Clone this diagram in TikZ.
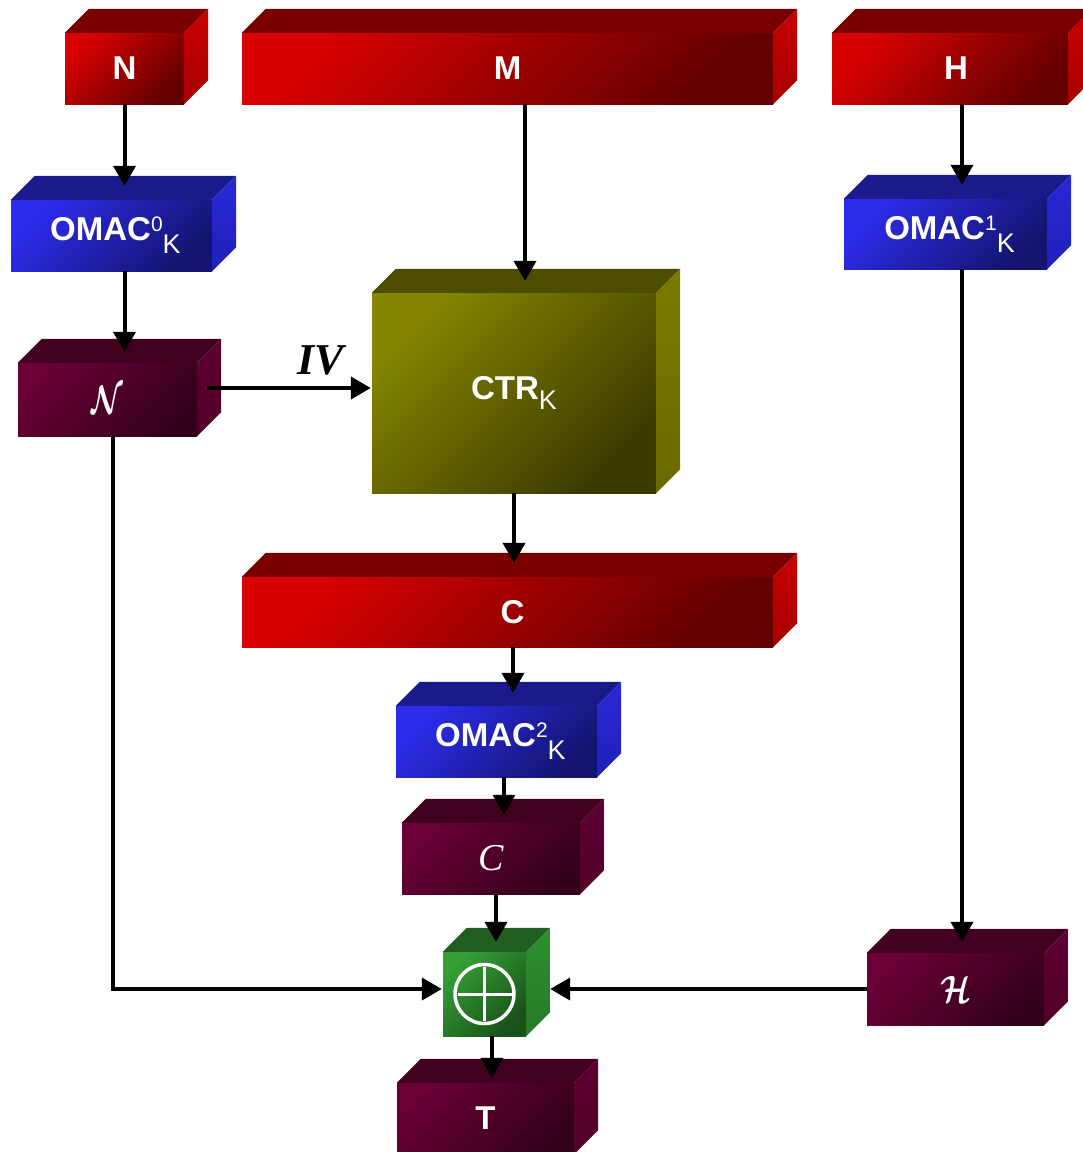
\documentclass[tikz,border=0pt]{standalone}
\usepackage{fontspec}
\usepackage{graphicx}
\setmainfont{Liberation Sans}
\newfontfamily\serifface{Liberation Serif}
\usetikzlibrary{arrows.meta}

% face colours of the 3D blocks
\definecolor{redA}{RGB}{216,0,0}
\definecolor{redB}{RGB}{100,0,0}
\definecolor{redT}{RGB}{122,0,0}
\definecolor{redS1}{RGB}{200,0,0}
\definecolor{redS2}{RGB}{168,0,0}
\definecolor{blueA}{RGB}{44,44,235}
\definecolor{blueB}{RGB}{20,20,112}
\definecolor{blueT}{RGB}{26,26,140}
\definecolor{blueS1}{RGB}{40,40,216}
\definecolor{blueS2}{RGB}{32,32,184}
\definecolor{oliveA}{RGB}{133,133,0}
\definecolor{oliveB}{RGB}{58,58,0}
\definecolor{oliveT}{RGB}{77,77,0}
\definecolor{oliveS1}{RGB}{122,122,0}
\definecolor{oliveS2}{RGB}{106,106,0}
\definecolor{maroonA}{RGB}{106,0,54}
\definecolor{maroonB}{RGB}{51,0,26}
\definecolor{maroonT}{RGB}{66,0,31}
\definecolor{maroonS1}{RGB}{94,0,50}
\definecolor{maroonS2}{RGB}{82,0,40}
\definecolor{greenA}{RGB}{52,160,52}
\definecolor{greenB}{RGB}{26,80,26}
\definecolor{greenT}{RGB}{31,94,31}
\definecolor{greenS1}{RGB}{46,144,46}
\definecolor{greenS2}{RGB}{38,122,38}

\tikzset{
  face/.style={font=\fontsize{33}{36}\selectfont\bfseries, text=white, inner sep=0pt},
  redfront/.style={face, top color=redA, bottom color=redB, shading angle=45},
  redtop/.style={fill=redT},
  redside/.style={top color=redS1, bottom color=redS2},
  bluefront/.style={face, top color=blueA, bottom color=blueB, shading angle=45},
  bluetop/.style={fill=blueT},
  blueside/.style={top color=blueS1, bottom color=blueS2},
  olivefront/.style={face, top color=oliveA, bottom color=oliveB, shading angle=45},
  olivetop/.style={fill=oliveT},
  oliveside/.style={top color=oliveS1, bottom color=oliveS2},
  maroonfront/.style={face, top color=maroonA, bottom color=maroonB, shading angle=45},
  maroontop/.style={fill=maroonT},
  maroonside/.style={top color=maroonS1, bottom color=maroonS2},
  greenfront/.style={face, top color=greenA, bottom color=greenB, shading angle=45},
  greentop/.style={fill=greenT},
  greenside/.style={top color=greenS1, bottom color=greenS2},
  arr/.style={line width=4pt, -{Triangle[length=20pt,width=22pt]}},
}

% \block{name}{cx}{cy}{width}{height}{colour set}{label}
\newcommand\block[7]{%
  \node[#6front, minimum width=#4pt, minimum height=#5pt] (#1) at (#2,#3) {#7};
  \path[#6top] (#1.north west) -- ++(24,-24) -- ([shift={(24pt,24pt)}]#1.north east)
    -- (#1.north east) -- cycle;
  \path[#6side] (#1.north east) -- ([shift={(24pt,24pt)}]#1.north east)
    -- ([shift={(24pt,24pt)}]#1.south east) -- (#1.south east) -- cycle;
}
\newcommand\omac[1]{OMAC\raisebox{9pt}{\fontsize{21}{21}\selectfont\mdseries #1}%
  \raisebox{-13pt}{\fontsize{27}{27}\selectfont\mdseries K}}
\newcommand\scriptletter[3]{\scalebox{#1}[#2]{\fontsize{10}{12}\selectfont\boldmath$\mathcal{#3}$}}

\begin{document}
\begin{tikzpicture}[x=1pt, y=-1pt]
  \useasboundingbox (0,0) rectangle (1083,1152);
  \fill[white] (0,0) rectangle (1083,1152);
  \clip (0,0) rectangle (1083,1152);

  % inputs
  \block{N}{124.5}{68.5}{119}{71}{red}{N}
  \block{M}{507.5}{68.5}{531}{71}{red}{M}
  \block{H}{950}{68.5}{236}{71}{red}{\hspace{12pt}H}

  % OMAC and CTR stages
  \block{O0}{111.5}{235.5}{201}{71}{blue}{\hspace{8pt}\omac{0}}
  \block{O1}{945.5}{234}{203}{70}{blue}{\hspace{8pt}\omac{1}}
  \block{Ncal}{107.5}{399.5}{179}{73}{maroon}{\scriptletter{2.9}{4.0}{N}}
  \block{CTR}{514}{393}{284}{200}{olive}{CTR\raisebox{-10pt}{\fontsize{27}{27}\selectfont\mdseries K}}
  \block{C}{507.5}{612}{531}{70}{red}{\hspace{10pt}C}
  \block{O2}{496.5}{741.5}{201}{71}{blue}{\hspace{8pt}\omac{2}}
  \block{Ccal}{491}{858.5}{178}{71}{maroon}{\serifface\fontsize{38}{38}\selectfont\mdseries\itshape C}
  \block{Hcal}{955.5}{989}{177}{72}{maroon}{\scriptletter{3.1}{3.8}{H}}
  \block{X}{484.5}{994}{83}{84}{green}{}
  \block{T}{485.5}{1118.5}{177}{71}{maroon}{T}

  % xor symbol
  \draw[white, line width=3.5pt] (X.center) circle (29.5pt);
  \draw[white, line width=3pt] ([xshift=-27pt]X.center) -- ([xshift=27pt]X.center);
  \draw[white, line width=3pt] ([yshift=-27pt]X.center) -- ([yshift=27pt]X.center);

  % connectors
  \draw[arr, shorten >=14pt] (N.south) -- (N.south |- O0.north);
  \draw[arr, shorten >=11pt] (O0.south -| N.south) -- (Ncal.north -| N.south);

  \coordinate (m1) at ([xshift=17.5pt]M.south);
  \draw[arr, shorten >=12pt] (m1) -- (m1 |- CTR.north);

  \coordinate (n1) at ([shift={(10pt,11.5pt)}]Ncal.east);
  \draw[arr, shorten >=1pt] (n1) -- (n1 -| CTR.west)
    node[pos=0.69, above=11pt, inner sep=0pt, font=\serifface\fontsize{44}{44}\selectfont\bfseries\itshape] (iv) {IV};

  \draw[arr, shorten >=14pt] (CTR.south) -- (CTR.south |- C.north);

  \coordinate (c1) at ([xshift=5.5pt]C.south);
  \draw[arr, shorten >=13pt] (c1) -- (c1 |- O2.north);

  \coordinate (o2) at ([xshift=7.5pt]O2.south);
  \draw[arr, shorten >=8pt] (o2) -- (o2 |- Ccal.north);

  \coordinate (cc) at ([xshift=5pt]Ccal.south);
  \draw[arr, shorten >=10pt] (cc) -- (cc |- X.north);

  \coordinate (x1) at ([xshift=7.5pt]X.south);
  \draw[arr, shorten >=5pt] (x1) -- (x1 |- T.north);

  \coordinate (n2) at ([xshift=5.5pt]Ncal.south);
  \coordinate (x2) at ([yshift=5pt]X.west);
  \draw[arr, shorten >=1pt] (n2) |- (x2);

  \coordinate (h1) at ([xshift=12pt]H.south);
  \draw[arr, shorten >=14pt] (h1) -- (h1 |- O1.north);

  \coordinate (o1) at ([xshift=16.5pt]O1.south);
  \draw[arr, shorten >=11pt] (o1) -- (o1 |- Hcal.north);

  \draw[arr, shorten >=24pt] (Hcal.west) -- (Hcal.west -| X.east);
\end{tikzpicture}
\end{document}
